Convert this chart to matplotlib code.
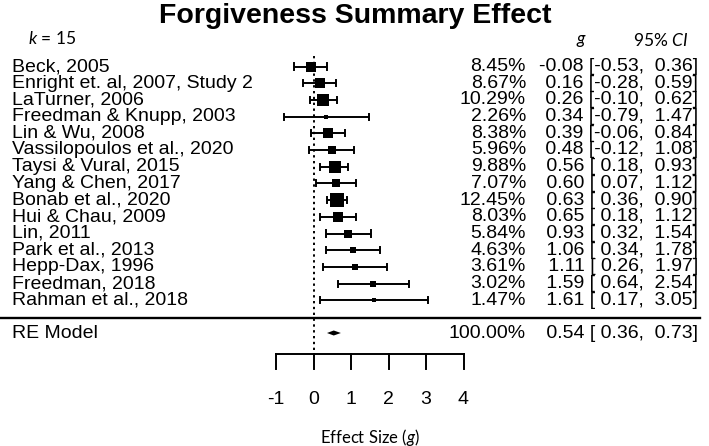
import numpy as np
import matplotlib
matplotlib.use("Agg")
import matplotlib.pyplot as plt
import matplotlib.transforms as mtransforms

# study level data
studies = ["Beck, 2005", "Enright et. al, 2007, Study 2", "LaTurner, 2006",
           "Freedman & Knupp, 2003", "Lin & Wu, 2008", "Vassilopoulos et al., 2020",
           "Taysi & Vural, 2015", "Yang & Chen, 2017", "Bonab et al., 2020",
           "Hui & Chau, 2009", "Lin, 2011", "Park et al., 2013", "Hepp-Dax, 1996",
           "Freedman, 2018", "Rahman et al., 2018"]
weights = [8.45, 8.67, 10.29, 2.26, 8.38, 5.96, 9.88, 7.07, 12.45, 8.03,
           5.84, 4.63, 3.61, 3.02, 1.47]
g = [-0.08, 0.16, 0.26, 0.34, 0.39, 0.48, 0.56, 0.60, 0.63, 0.65,
     0.93, 1.06, 1.11, 1.59, 1.61]
ci_lo = [-0.53, -0.28, -0.10, -0.79, -0.06, -0.12, 0.18, 0.07, 0.36, 0.18,
         0.32, 0.34, 0.26, 0.64, 0.17]
ci_hi = [0.36, 0.59, 0.62, 1.47, 0.84, 1.08, 0.93, 1.12, 0.90, 1.12,
         1.54, 1.78, 1.97, 2.54, 3.05]

# random effects summary
re_label = "RE Model"
re_weight = 100.00
re_g = 0.54
re_lo = 0.36
re_hi = 0.73

ticks = [-1, 0, 1, 2, 3, 4]

W, H = 709, 446
PX_PER_G = 37.5      # pixels per unit of g
X0_PX = 313.5        # pixel position of g = 0
ROW_PX = 16.7        # pixels between study rows
Y0_PX = 66.5         # pixel position of first study row

plt.rcParams["mathtext.fontset"] = "custom"
plt.rcParams["mathtext.rm"] = "Lato"
plt.rcParams["mathtext.it"] = "Lato:italic"


def row(py):
    # pixel height -> row units
    return (py - Y0_PX) / ROW_PX


def num(v):
    # metafor style: pad positives so columns line up
    return f"{v:.2f}" if v < 0 else f" {v:.2f}"


def annot(est, lo, hi):
    return f"{num(est)} [{num(lo)}, {num(hi)}]"


narrow = ["Liberation Sans Narrow", "Liberation Sans", "DejaVu Sans"]
body = ["Liberation Sans", "DejaVu Sans"]
soft = ["Lato", "Open Sans", "DejaVu Sans"]

fig = plt.figure(figsize=(W / 100, H / 100), dpi=100)
ax = fig.add_axes([0, 0, 1, 1])
ax.set_xlim(-X0_PX / PX_PER_G, (W - X0_PX) / PX_PER_G)
ax.set_ylim(row(H), row(0))
ax.axis("off")

tr = mtransforms.blended_transform_factory(ax.transAxes, ax.transData)
fs = 14
x_w = 526 / W     # right edge of weight column
x_ci = 698 / W    # right edge of estimate + CI column

# title and header
ax.text(355 / W, row(16), "Forgiveness Summary Effect", transform=tr,
        ha="center", va="center", fontsize=20.5, fontweight="bold", family=body)
ax.text(28 / W, row(38), r"$k$ = 15", transform=tr, ha="left", va="center",
        fontsize=12.5, family=soft)
ax.text(581 / W, row(41), r"$g$", transform=tr, ha="center", va="center",
        fontsize=12.5, family=soft)
ax.text(633 / W, row(41), r"95% $CI$", transform=tr, ha="left", va="center",
        fontsize=12.5, family=soft)

# study rows
n = len(studies)
ys = np.arange(n)
wmin, wmax = min(weights), max(weights)
for i in range(n):
    y = ys[i]
    ax.plot([ci_lo[i], ci_hi[i]], [y, y], color="black", lw=1.4,
            solid_capstyle="butt")
    for xe in (ci_lo[i], ci_hi[i]):
        ax.plot([xe, xe], [y - 0.18, y + 0.18], color="black", lw=1.4)
    side_px = 4 + 9.5 * (weights[i] - wmin) / (wmax - wmin)
    ax.scatter([g[i]], [y], marker="s", s=(side_px * 0.72) ** 2,
               color="black", zorder=3, linewidths=0)

    ax.text(12 / W, y, studies[i], transform=tr, ha="left", va="center",
            fontsize=fs, family=body)
    ax.text(x_w, y, f"{weights[i]:.2f}%", transform=tr, ha="right",
            va="center", fontsize=fs, family=body)
    ax.text(x_ci, y, annot(g[i], ci_lo[i], ci_hi[i]), transform=tr,
            ha="right", va="center", fontsize=fs, family=body)

# separator
ax.plot([0, 700 / W], [row(318), row(318)], color="black", lw=1.7,
        transform=tr)

# summary diamond
y_re = row(333)
dh = 0.15
ax.fill([re_lo, re_g, re_hi, re_g], [y_re, y_re - dh, y_re, y_re + dh],
        color="black", lw=0)
ax.text(12 / W, y_re, re_label, transform=tr, ha="left", va="center",
        fontsize=fs, family=body)
ax.text(x_w, y_re, f"{re_weight:.2f}%", transform=tr, ha="right",
        va="center", fontsize=fs, family=body)
ax.text(x_ci, y_re, annot(re_g, re_lo, re_hi), transform=tr,
        ha="right", va="center", fontsize=fs, family=body)

# null line
ax.plot([0, 0], [-0.6, row(354)], color="black", lw=1.4, ls=(0, (1.2, 1.8)))

# bottom axis drawn like R's bracket axis
y_ax = row(354)
y_tk = row(369)
ax.plot([ticks[0], ticks[-1]], [y_ax, y_ax], color="black", lw=1.4)
for t in ticks:
    ax.plot([t, t], [y_ax, y_tk], color="black", lw=1.4)
    ax.text(t, row(399), f"{t}", ha="center", va="center", fontsize=fs,
            family=narrow)
xmid = np.mean([ticks[0], ticks[-1]])
ax.text(xmid, row(437), r"Effect Size ($g$)", ha="center", va="center",
        fontsize=12, family=soft)

fig.savefig("out.png", dpi=100)
